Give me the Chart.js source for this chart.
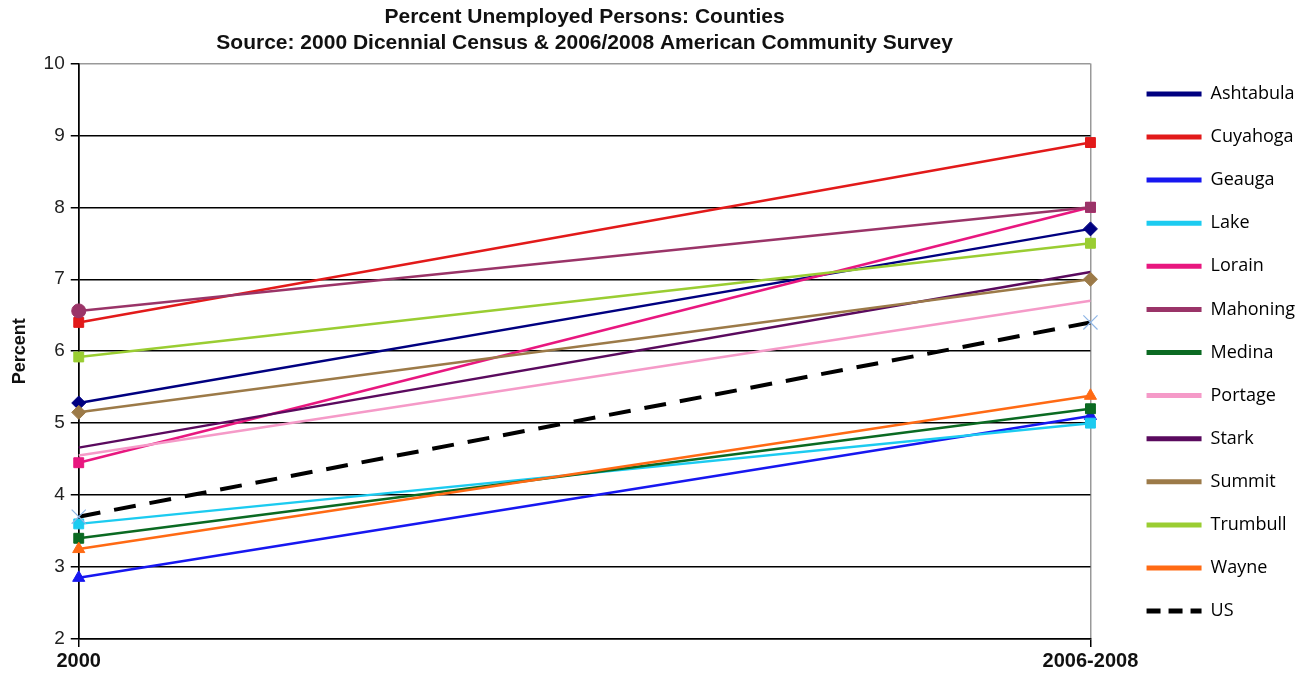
<!DOCTYPE html>
<html><head><meta charset="utf-8">
<script src="https://cdn.jsdelivr.net/npm/chart.js@4.4.1/dist/chart.umd.min.js"></script>
<style>html,body{margin:0;padding:0;background:#fff}#wrap{width:1306px;height:676px}</style>
</head><body><div id="wrap"><canvas id="c" width="1306" height="676"></canvas></div>
<script>
const categories = ['2000', '2006-2008'];
const seriesNames = ['Ashtabula','Cuyahoga','Geauga','Lake','Lorain','Mahoning','Medina','Portage','Stark','Summit','Trumbull','Wayne','US'];
const ashtabula = [5.28, 7.7];
const cuyahoga = [6.4, 8.9];
const geauga = [2.85, 5.1];
const lake = [3.6, 5.0];
const lorain = [4.45, 8.0];
const mahoning = [6.56, 8.0];
const medina = [3.4, 5.2];
const portage = [4.55, 6.7];
const stark = [4.66, 7.1];
const summit = [5.15, 7.0];
const trumbull = [5.92, 7.5];
const wayne = [3.25, 5.38];
const us = [3.7, 6.4];
const yTicks = [2,3,4,5,6,7,8,9,10];

const seriesValues = [ashtabula,cuyahoga,geauga,lake,lorain,mahoning,medina,portage,stark,summit,trumbull,wayne,us];
const colors = ['#000080','#e21a1a','#1717f0','#1ccbf0','#e8177f','#9a3468','#0b6a22','#f59ac8','#5a0a5e','#9c7a48','#9acd32','#ff6a14','#000000'];
const markers = ['rectRot','rect','triangle','rect','rect',['circle','rect'],'rect',false,false,'rectRot','rect','triangle','crossRot'];

const datasets = seriesNames.map((n,i)=>({
  label: n,
  data: seriesValues[i],
  order: 12 - i,
  borderColor: colors[i],
  backgroundColor: colors[i],
  borderWidth: i===12 ? 4 : 2.5,
  borderDash: i===12 ? [22,14] : [],
  pointStyle: markers[i] || 'circle',
  pointRadius: markers[i] ? (i===12 ? 10 : 7) : 0,
  pointBorderColor: i===12 ? '#8fb6e6' : colors[i],
  pointBackgroundColor: i===12 ? '#8fb6e6' : colors[i],
  pointBorderWidth: i===12 ? 1.2 : 1,
  tension: 0
}));

Chart.defaults.color = '#111';

new Chart(document.getElementById('c'), {
  type: 'line',
  data: { labels: categories, datasets },
  options: {
    responsive: false,
    animation: false,
    layout: { padding: { left: 9, right: 1, top: 4, bottom: 1 } },
    plugins: {
      title: {
        display: true,
        fullSize: false,
        text: ['Percent Unemployed Persons: Counties', 'Source: 2000 Dicennial Census & 2006/2008 American Community Survey'],
        font: { family: 'Liberation Sans, Arial', size: 21, weight: 'bold', lineHeight: 1.2 },
        color: '#111',
        padding: { top: 1, bottom: 8 }
      },
      legend: {
        position: 'right',
        align: 'center',
        title: { display: true, text: ' ', color: '#111', font: { family: 'Open Sans', size: 10, lineHeight: 1.2 }, padding: { top: 7, bottom: 7 } },
        labels: {
          usePointStyle: true,
          pointStyle: 'line',
          pointStyleWidth: 55,
          boxHeight: 18,
          padding: 25.1,
          color: '#000',
          font: { family: 'Open Sans, DejaVu Sans', size: 18, weight: '500' },
          generateLabels: (chart) => chart.data.datasets.map((d,i)=>({
            text: d.label,
            fontColor: '#000',
            fillStyle: d.borderColor,
            strokeStyle: d.borderColor,
            lineWidth: 5,
            lineDash: i===12 ? [14,8] : [],
            pointStyle: 'line',
            datasetIndex: i,
            hidden: false
          }))
        }
      },
      tooltip: { enabled: false }
    },
    scales: {
      x: {
        offset: false,
        grid: {
          display: true,
          color: (ctx)=> ctx.index===0 ? '#000' : '#999',
          lineWidth: 1.5,
          tickLength: 8,
          tickColor: '#000'
        },
        border: { color: '#000', width: 1.5 },
        ticks: { color: '#111', font: { family: 'Liberation Sans, Arial', size: 20, weight: 'bold' }, padding: 2, maxRotation: 0 }
      },
      y: {
        min: 2, max: 10,
        afterBuildTicks: (axis)=>{ axis.ticks = yTicks.map(v=>({value:v})); },
        grid: {
          color: (ctx)=> (ctx.tick && ctx.tick.value===10) ? '#999' : '#000',
          lineWidth: 1.5,
          tickLength: 8,
          tickColor: '#000'
        },
        border: { color: '#000', width: 1.5 },
        ticks: { color: '#222', font: { family: 'Liberation Sans, Arial', size: 19 }, padding: 6 },
        title: { display: true, text: 'Percent', color: '#111', font: { family: 'Liberation Sans, Arial', size: 18, weight: 'bold' }, padding: { top: 0, bottom: 7 } }
      },
      gap: {
        type: 'linear',
        position: 'right',
        display: true,
        grid: { display: false, drawTicks: false },
        border: { display: false },
        ticks: { display: false },
        afterFit: (a)=>{ a.width = 31; }
      }
    }
  }
});
</script></body></html>
